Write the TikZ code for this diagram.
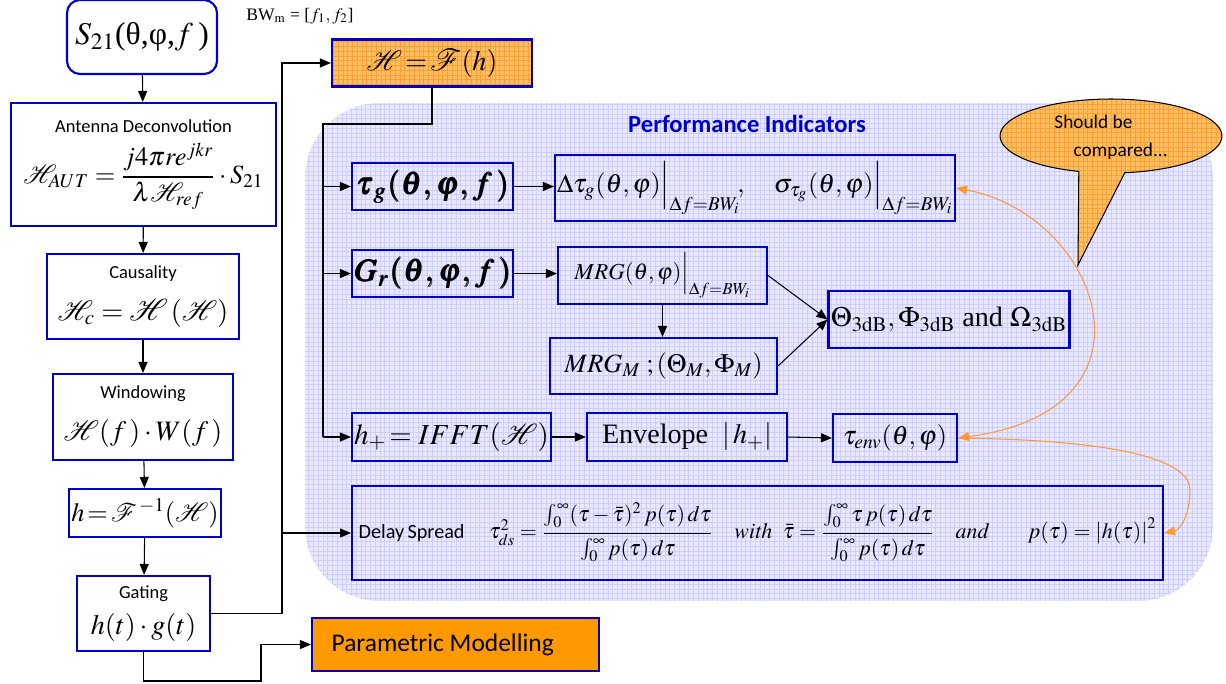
\documentclass[tikz,border=0pt]{standalone}
\usepackage{amsmath}
\usepackage{mathptmx}
\usepackage{bm}
\usepackage{mathrsfs}
\usepackage[no-math]{fontspec}
\setmainfont{Liberation Serif}
\setsansfont{Carlito}
\usepackage{xcolor}
\usepackage{tikz}
\usetikzlibrary{
  arrows.meta,
  positioning,
  shapes.callouts,
  shapes.geometric
}
\definecolor{boxblue}{RGB}{0,0,204}
\definecolor{panelfill}{RGB}{232,232,255}
\definecolor{panelgrid}{RGB}{205,205,255}
\definecolor{hotorange}{RGB}{255,153,0}
\definecolor{softorange}{RGB}{255,190,95}
\definecolor{softgrid}{RGB}{250,160,55}
\definecolor{linkorange}{RGB}{255,153,51}
\newcommand\setfs[1]{\fontsize{#1}{#1}\selectfont}
\tikzset{
  flowbox/.style={
    draw=boxblue,
    line width=1.2pt,
    inner sep=0pt,
    align=center
  },
  meshed/.style={
    path picture={
      \draw[#1, line width=0.3pt, step=0.095cm]
        (path picture bounding box.south west) grid
        (path picture bounding box.north east);
    }
  },
  arrow/.style={
    -{Triangle[length=2.2mm,width=1.8mm]},
    line width=0.6pt,
    draw=black
  },
  link/.style={
    line width=0.6pt,
    draw=black
  },
  compare/.style={
    line width=0.6pt,
    draw=linkorange,
    arrows={-{Triangle[length=2.2mm,width=1.8mm]}}
  }
}

\begin{document}
\begin{tikzpicture}[x=0.02cm, y=-0.02cm]
  \useasboundingbox (0,0) rectangle (1226,683);

  % panel with the indicators
  \begin{scope}
    \clip[rounded corners=1.5cm] (305,103) rectangle (1213,601);
    \fill[panelfill] (305,103) rectangle (1213,601);
    \draw[panelgrid, line width=0.3pt, step=0.095cm] (305,103) grid (1213,601);
  \end{scope}

  % processing chain
  \node[flowbox, rounded corners=0.26cm, minimum width=3cm, minimum height=1.48cm,
    font=\setfs{18}] (s21) at (142,37) {$S_{21}$(θ,φ,$f$\,)};
  \node[flowbox, minimum width=5.3cm, minimum height=2.46cm] (deconv) at (143.5,164.5) {
    {\sffamily\setfs{10.5}Antenna Deconvolution}\\[5pt]
    {\setfs{15}$\mathcal{H}_{AUT}=\dfrac{j4\pi re^{jkr}}{\lambda\mathcal{H}_{ref}}\cdot S_{21}$}
  };
  \node[flowbox, minimum width=3.84cm, minimum height=1.7cm] (causal) at (143,296.5) {
    {\sffamily\setfs{10.5}Causality}\\[9pt]
    {\setfs{16}$\mathcal{H}_c=\mathscr{H}\,(\mathcal{H})$}
  };
  \node[flowbox, minimum width=3.6cm, minimum height=1.72cm] (window) at (143,417) {
    {\sffamily\setfs{10.5}Windowing}\\[9pt]
    {\setfs{16}$\mathcal{H}(f\,)\cdot W(f\,)$}
  };
  \node[flowbox, minimum width=3.04cm, minimum height=0.96cm, font=\setfs{15}]
    (hinv) at (145,513) {$h\!=\!\mathscr{F}^{\,-1}(\mathcal{H})$};
  \node[flowbox, minimum width=2.66cm, minimum height=1.5cm] (gating) at (143.5,613.5) {
    {\sffamily\setfs{10.5}Gating}\\[6pt]
    {\setfs{16}$h(t)\cdot g(t)$}
  };
  \node[font=\setfs{10}] (bwlabel) at (300,16) {BW$_{\mathrm{m}}$ = [$f_1, f_2$]};
  \node[flowbox, fill=softorange, meshed=softgrid, minimum width=4cm, minimum height=0.94cm,
    font=\setfs{16}] (hfreq) at (432,63) {$\mathcal{H}\!=\!\mathscr{F}(h)$};
  \node[flowbox, fill=hotorange, minimum width=5.74cm, minimum height=1.06cm,
    font=\sffamily\setfs{14.5}] (param) at (455.5,644.5) {Parametric Modelling\hspace{1em}};

  % indicators
  \node[font=\sffamily\bfseries\setfs{14}, text=boxblue] (perf) at (747,124) {Performance Indicators};
  \node[flowbox, minimum width=3.22cm, minimum height=0.94cm, font=\setfs{18}]
    (taug) at (432.5,186.5) {$\bm{\tau_g(\theta,\varphi,f\,)}$};
  \node[flowbox, minimum width=8cm, minimum height=1.32cm, font=\setfs{15}] (dtau) at (755,188)
    {$\Delta\tau_g(\theta,\varphi)\Big|_{\Delta f=BW_i}\!,\quad
      \sigma_{\tau_g}(\theta,\varphi)\Big|_{\Delta f=BW_i}$};
  \node[flowbox, minimum width=3.22cm, minimum height=0.94cm, font=\setfs{18}]
    (gain) at (432.5,273.5) {$\bm{G_r(\theta,\varphi,f\,)}$};
  \node[flowbox, minimum width=4.18cm, minimum height=1.14cm, font=\setfs{13}]
    (mrg) at (662.5,275.5) {$MRG(\theta,\varphi)\Big|_{\Delta f=BW_i}$};
  \node[flowbox, minimum width=4.54cm, minimum height=1.12cm, font=\setfs{15}]
    (mrgm) at (663.5,366) {$MRG_M\;;(\Theta_M,\Phi_M)$};
  \node[flowbox, minimum width=4.82cm, minimum height=1.14cm, font=\setfs{16}]
    (beam) at (949,319.5) {$\Theta_{\mathrm{3dB}},\Phi_{\mathrm{3dB}}$ and $\Omega_{\mathrm{3dB}}$};
  \node[flowbox, minimum width=3.98cm, minimum height=0.96cm, font=\setfs{16.5}]
    (hplus) at (451.5,437) {$h_+\!=IFFT(\mathcal{H})$};
  \node[flowbox, minimum width=4cm, minimum height=0.96cm, font=\setfs{16}]
    (envel) at (687,437) {Envelope\ \ $\lvert\, h_+ \rvert$};
  \node[flowbox, minimum width=2.48cm, minimum height=0.96cm, font=\setfs{15}]
    (tenv) at (895,438) {$\tau_{env}(\theta,\varphi)$};
  \node[flowbox, minimum width=16.22cm, minimum height=1.88cm, font=\setfs{12.5}] (spread) at (757.5,533) {%
    {\sffamily\setfs{11.5}Delay\,Spread}\hspace{14pt}%
    $\tau_{ds}^2=\dfrac{\int_0^\infty(\tau-\bar{\tau})^2\,p(\tau)\,d\tau\rule[-5pt]{0pt}{16pt}}
      {\int_0^\infty p(\tau)\,d\tau\rule[-5pt]{0pt}{16pt}}$\hspace{12pt}%
    $\mathit{with}$\hspace{6pt}%
    $\bar{\tau}=\dfrac{\int_0^\infty\tau\, p(\tau)\,d\tau\rule[-5pt]{0pt}{16pt}}
      {\int_0^\infty p(\tau)\,d\tau\rule[-5pt]{0pt}{16pt}}$\hspace{12pt}%
    $\mathit{and}$\hspace{22pt}%
    $p(\tau)=\left|h(\tau)\right|^2$%
  };

  % remark
  \node[ellipse callout, draw=black, line width=0.6pt, fill=softorange, meshed=softgrid,
    minimum width=4.44cm, minimum height=1.48cm, inner sep=0pt,
    callout absolute pointer={(1078,265)}, callout pointer arc=24,
    align=left, font=\sffamily\setfs{11}] (callout) at (1111,136)
    {\rule{0pt}{0pt}\\[-2pt]Should be\\[5pt]\hspace*{11pt}compared...};

  % chain connectors
  \draw[arrow] (s21) -- (deconv);
  \draw[arrow] (deconv) -- (causal);
  \draw[arrow] (causal) -- (window);
  \draw[arrow] (window) -- (hinv);
  \draw[arrow] (hinv) -- (gating);
  \coordinate (riser) at (282,613.5);
  \draw[arrow] (gating.east) -- (riser) |- (hfreq.west);
  \draw[arrow] (riser |- spread.west) -- (spread.west);
  \coordinate (loop) at (261,681);
  \draw[arrow] (gating.south) |- (loop) |- (param.west);

  % indicator connectors
  \coordinate (fan) at (323,124);
  \draw[link] (hfreq.south) |- (fan) -- (fan |- hplus.west);
  \draw[arrow] (fan |- taug.west) -- (taug.west);
  \draw[arrow] (fan |- gain.west) -- (gain.west);
  \draw[arrow] (fan |- hplus.west) -- (hplus.west);
  \draw[arrow] (taug.east) -- (taug.east -| dtau.west);
  \draw[arrow] (gain.east) -- (gain.east -| mrg.west);
  \draw[arrow] (mrg.south) -- (mrg.south |- mrgm.north);
  \draw[arrow] (mrg.east) -- (beam.west);
  \draw[arrow] (mrgm.east) -- (beam.west);
  \draw[arrow] (hplus.east) -- (envel.west);
  \draw[arrow] (envel.east) -- (tenv.west);

  % comparisons
  \draw[compare, arrows={{Triangle[length=2.2mm,width=1.8mm]}-{Triangle[length=2.2mm,width=1.8mm]}}]
    (dtau.east) .. controls (1100,215) and (1170,410) .. (tenv.east);
  \draw[compare] (tenv.east) .. controls (1120,440) and (1190,460) .. (1190,490)
    .. controls (1190,515) and (1180,530) .. (spread.east);
\end{tikzpicture}
\end{document}
